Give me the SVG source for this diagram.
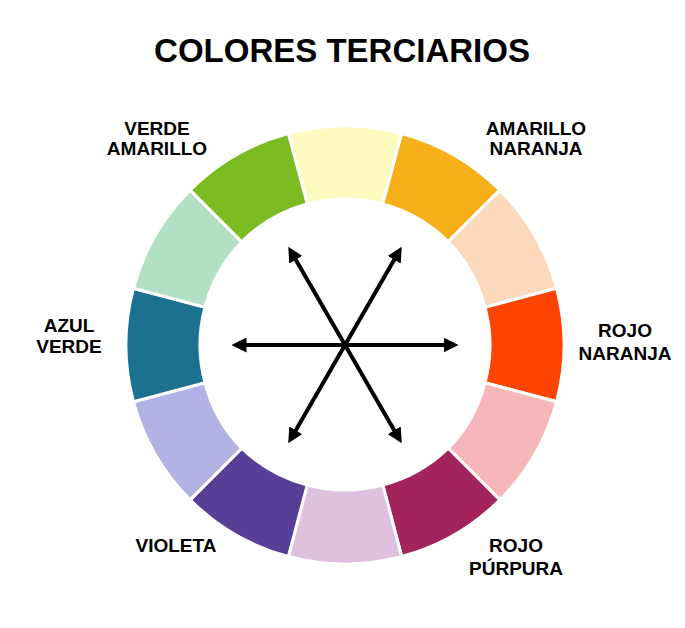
<svg xmlns="http://www.w3.org/2000/svg" width="685" height="628" viewBox="0 0 685 628">
<style>
.seg{stroke:#fff;stroke-width:3;stroke-linejoin:miter}
.lbl{font-family:"Liberation Sans",Arial,sans-serif;font-weight:bold;font-size:19px;fill:#000;text-anchor:middle}
.title{font-family:"Liberation Sans",Arial,sans-serif;font-weight:bold;font-size:33px;fill:#000;text-anchor:middle}
.arr{stroke:#000;stroke-width:4;fill:none;marker-end:url(#ah)}
</style>
<defs>
<marker id="ah" markerUnits="userSpaceOnUse" viewBox="0 0 15 15" markerWidth="15" markerHeight="15" refX="0.5" refY="7.5" orient="auto">
<path d="M0,0 L15,7.5 L0,15 Z" fill="#000"/>
</marker>
</defs>
<rect width="685" height="628" fill="#fff"/>
<text class="title" x="342" y="62">COLORES TERCIARIOS</text>
<g id="wheel">
<g id="seg-amarillo-claro"><path class="seg" fill="#FEFBC0" d="M288.32,133.46 A219,219 0 0 1 401.68,133.46 L382.79,203.98 A146,146 0 0 0 307.21,203.98 Z"/></g>
<g id="seg-amarillo-naranja"><path class="seg" fill="#F7AF1A" d="M401.68,133.46 A219,219 0 0 1 499.86,190.14 L448.24,241.76 A146,146 0 0 0 382.79,203.98 Z"/></g>
<g id="seg-melocoton"><path class="seg" fill="#FCD8BD" d="M499.86,190.14 A219,219 0 0 1 556.54,288.32 L485.02,307.21 A146,146 0 0 0 448.24,241.76 Z"/></g>
<g id="seg-rojo-naranja"><path class="seg" fill="#FE4402" d="M556.54,288.32 A219,219 0 0 1 556.54,401.68 L485.02,382.79 A146,146 0 0 0 485.02,307.21 Z"/></g>
<g id="seg-rosa"><path class="seg" fill="#F5B7B9" d="M556.54,401.68 A219,219 0 0 1 499.86,499.86 L448.24,448.24 A146,146 0 0 0 485.02,382.79 Z"/></g>
<g id="seg-rojo-purpura"><path class="seg" fill="#A2245A" d="M499.86,499.86 A219,219 0 0 1 401.68,556.54 L382.79,485.02 A146,146 0 0 0 448.24,448.24 Z"/></g>
<g id="seg-lila"><path class="seg" fill="#DFC0DF" d="M401.68,556.54 A219,219 0 0 1 288.32,556.54 L307.21,485.02 A146,146 0 0 0 382.79,485.02 Z"/></g>
<g id="seg-violeta"><path class="seg" fill="#573E96" d="M288.32,556.54 A219,219 0 0 1 190.14,499.86 L241.76,448.24 A146,146 0 0 0 307.21,485.02 Z"/></g>
<g id="seg-lavanda"><path class="seg" fill="#B3B2E4" d="M190.14,499.86 A219,219 0 0 1 133.46,401.68 L204.98,382.79 A146,146 0 0 0 241.76,448.24 Z"/></g>
<g id="seg-azul-verde"><path class="seg" fill="#1C7090" d="M133.46,401.68 A219,219 0 0 1 133.46,288.32 L204.98,307.21 A146,146 0 0 0 204.98,382.79 Z"/></g>
<g id="seg-menta"><path class="seg" fill="#B3E0C5" d="M133.46,288.32 A219,219 0 0 1 190.14,190.14 L241.76,241.76 A146,146 0 0 0 204.98,307.21 Z"/></g>
<g id="seg-verde-amarillo"><path class="seg" fill="#7DBB22" d="M190.14,190.14 A219,219 0 0 1 288.32,133.46 L307.21,203.98 A146,146 0 0 0 241.76,241.76 Z"/></g>
</g>
<g id="connectors">
<line class="arr" x1="345" y1="345" x2="444" y2="345"/>
<line class="arr" x1="345" y1="345" x2="246" y2="345"/>
<line class="arr" x1="345" y1="345" x2="394.5" y2="259.3"/>
<line class="arr" x1="345" y1="345" x2="295.5" y2="259.3"/>
<line class="arr" x1="345" y1="345" x2="295.5" y2="430.7"/>
<line class="arr" x1="345" y1="345" x2="394.5" y2="430.7"/>
</g>
<g id="label-verde-amarillo"><text class="lbl" x="157" y="135">VERDE</text><text class="lbl" x="157" y="155">AMARILLO</text></g>
<g id="label-amarillo-naranja"><text class="lbl" x="536" y="135">AMARILLO</text><text class="lbl" x="536" y="155">NARANJA</text></g>
<g id="label-rojo-naranja"><text class="lbl" x="625" y="337">ROJO</text><text class="lbl" x="625" y="360">NARANJA</text></g>
<g id="label-azul-verde"><text class="lbl" x="69" y="332">AZUL</text><text class="lbl" x="69" y="353">VERDE</text></g>
<g id="label-violeta"><text class="lbl" x="176" y="552">VIOLETA</text></g>
<g id="label-rojo-purpura"><text class="lbl" x="516" y="552">ROJO</text><text class="lbl" x="516" y="575">PÚRPURA</text></g>
</svg>
